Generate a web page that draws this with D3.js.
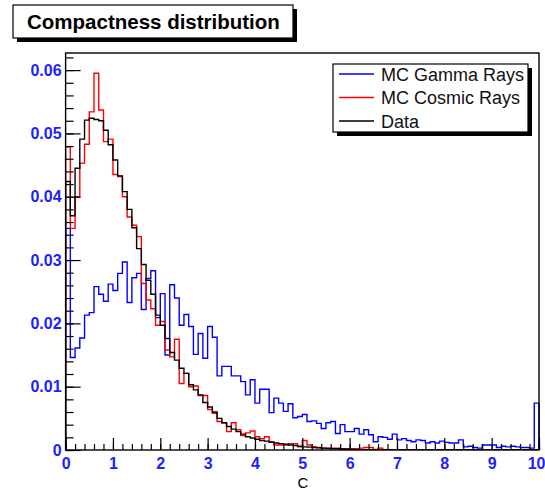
<!DOCTYPE html>
<html>
<head>
<meta charset="utf-8">
<script src="https://cdn.jsdelivr.net/npm/d3@7"></script>
<style>
  body { margin: 0; background: #fff; }
  svg { display: block; font-family: "Liberation Sans", Arial, sans-serif; }
</style>
</head>
<body>
<div id="chart"></div>
<script>
// histogrammes de compacité, 100 bins de 0.1 entre 0 et 10
const binWidth = 0.1;

const gammaRays = [
  0.0350, 0.0146, 0.0161, 0.0177, 0.0213, 0.0217, 0.0258, 0.0246, 0.0235, 0.0262,
  0.0252, 0.0279, 0.0297, 0.0233, 0.0272, 0.0279, 0.0222, 0.0271, 0.0283, 0.0209,
  0.0247, 0.0150, 0.0261, 0.0240, 0.0197, 0.0214, 0.0195, 0.0151, 0.0184, 0.0145,
  0.0195, 0.0178, 0.0117, 0.0132, 0.0132, 0.0117, 0.0117, 0.0108, 0.0087, 0.0111,
  0.0074, 0.0096, 0.0096, 0.0059, 0.0082, 0.0074, 0.0061, 0.0073, 0.0051, 0.0053,
  0.0056, 0.0045, 0.0046, 0.0042, 0.0034, 0.0043, 0.0045, 0.0026, 0.0040, 0.0029,
  0.0029, 0.0034, 0.0025, 0.0032, 0.0024, 0.0013, 0.0021, 0.0020, 0.0017, 0.0025,
  0.0016, 0.0018, 0.0015, 0.0013, 0.0016, 0.0015, 0.0011, 0.0013, 0.0011, 0.0014,
  0.0012, 0.0011, 0.0011, 0.0016, 0.0005, 0.0006, 0.0004, 0.0003, 0.0008, 0.0008,
  0.0008, 0.0004, 0.0006, 0.0005, 0.0006, 0.0005, 0.0004, 0.0004, 0.0003, 0.0074
];

const cosmicRays = [
  0.0479, 0.0350, 0.0400, 0.0453, 0.0483, 0.0534, 0.0595, 0.0537, 0.0487, 0.0491,
  0.0435, 0.0432, 0.0400, 0.0368, 0.0355, 0.0337, 0.0263, 0.0237, 0.0223, 0.0197,
  0.0203, 0.0158, 0.0147, 0.0175, 0.0105, 0.0121, 0.0100, 0.0101, 0.0086, 0.0086,
  0.0064, 0.0058, 0.0045, 0.0043, 0.0029, 0.0043, 0.0032, 0.0023, 0.0027, 0.0030,
  0.0021, 0.0018, 0.0021, 0.0013, 0.0008, 0.0008, 0.0008, 0.0010, 0.0010, 0.0005,
  0.0015, 0.0008, 0.0005, 0.0004, 0.0003, 0.0003, 0.0003, 0.0003, 0.0002, 0.0002,
  0.0002, 0.0002, 0.0003, 0.0004, 0.0004, 0.0001, 0.0003, 0, 0, 0,
  0, 0, 0, 0, 0, 0, 0, 0, 0, 0,
  0, 0, 0, 0, 0, 0, 0, 0, 0, 0,
  0, 0, 0, 0, 0, 0, 0, 0, 0, 0
];

const dataHist = [
  0.0424, 0.0370, 0.0445, 0.0491, 0.0521, 0.0524, 0.0522, 0.0520, 0.0505, 0.0482,
  0.0458, 0.0433, 0.0408, 0.0380, 0.0351, 0.0318, 0.0293, 0.0268, 0.0246, 0.0213,
  0.0197, 0.0176, 0.0154, 0.0142, 0.0129, 0.0121, 0.0103, 0.0095, 0.0087, 0.0075,
  0.0068, 0.0060, 0.0050, 0.0043, 0.0037, 0.0033, 0.0029, 0.0025, 0.0021, 0.0019,
  0.0017, 0.0015, 0.0014, 0.0012, 0.0011, 0.0010, 0.0009, 0.0008, 0.0007, 0.0006,
  0.0005, 0.00045, 0.0004, 0.00035, 0.0003, 0.00025, 0.0002, 0.0002, 0.00015, 0.00012,
  0.0001, 0.00005, 0.00005, 0.00005, 0.00005, 0, 0, 0, 0, 0,
  0, 0, 0, 0, 0, 0, 0, 0, 0, 0,
  0, 0, 0, 0, 0, 0, 0, 0, 0, 0,
  0, 0, 0, 0, 0, 0, 0, 0, 0, 0
];

const seriesNames = ["MC Gamma Rays", "MC Cosmic Rays", "Data"];
const seriesColors = ["#0000ff", "#ff0000", "#000000"];
const xTicks = [0, 1, 2, 3, 4, 5, 6, 7, 8, 9, 10];
const yTicks = [0, 0.01, 0.02, 0.03, 0.04, 0.05, 0.06];

const width = 545, height = 490;
const frameLeft = 65.6, frameRight = 539, frameTop = 53, frameBottom = 450;
const labelBlue = "#1e1eff";

const svg = d3.select("#chart").append("svg")
  .attr("width", width)
  .attr("height", height);

svg.append("rect").attr("width", width).attr("height", height).attr("fill", "#fff");

const x = d3.scaleLinear().domain([0, 10]).range([frameLeft, frameRight]);
const y = d3.scaleLinear().domain([0, 0.0627]).range([frameBottom, frameTop]);

// les histogrammes, dessinés en escalier
svg.append("clipPath").attr("id", "frameClip")
  .append("rect")
  .attr("x", frameLeft).attr("y", frameTop - 2)
  .attr("width", frameRight - frameLeft + 1).attr("height", frameBottom - frameTop + 2);

const stepLine = d3.line()
  .x(d => x(d[0]))
  .y(d => y(d[1]))
  .curve(d3.curveStepAfter);

function histPoints(values) {
  const pts = [[0, 0]];
  values.forEach((v, i) => pts.push([i * binWidth, v]));
  pts.push([values.length * binWidth, 0]);
  return pts;
}

const allSeries = [gammaRays, cosmicRays, dataHist];

svg.append("g").attr("clip-path", "url(#frameClip)")
  .selectAll("path")
  .data(allSeries)
  .enter()
  .append("path")
  .attr("d", d => stepLine(histPoints(d)))
  .attr("fill", "none")
  .attr("stroke", (d, i) => seriesColors[i])
  .attr("stroke-width", 1.4);

// axe Y : graduations vers l'intérieur
const yMinor = d3.range(0, 0.0627, 0.002);
svg.append("g")
  .attr("transform", `translate(${frameLeft},0)`)
  .call(d3.axisLeft(y).tickValues(yMinor).tickSize(-8).tickFormat(""))
  .call(g => g.select(".domain").remove());

svg.append("g")
  .attr("transform", `translate(${frameLeft},0)`)
  .call(d3.axisLeft(y).tickValues(yTicks).tickSize(-15).tickSizeOuter(0).tickPadding(4)
    .tickFormat(d => d === 0 ? "0" : d3.format(".2f")(d)))
  .call(g => g.select(".domain").remove())
  .call(g => g.selectAll("text")
    .attr("fill", labelBlue)
    .style("font-size", "16px")
    .style("font-weight", "bold"));

// axe X
const xMinor = d3.range(0, 10.01, 0.2);
svg.append("g")
  .attr("transform", `translate(0,${frameBottom})`)
  .call(d3.axisBottom(x).tickValues(xMinor).tickSize(-6).tickFormat(""))
  .call(g => g.select(".domain").remove());

svg.append("g")
  .attr("transform", `translate(0,${frameBottom})`)
  .call(d3.axisBottom(x).tickValues(xTicks).tickSize(-12).tickSizeOuter(0).tickPadding(8))
  .call(g => g.select(".domain").remove())
  .call(g => g.selectAll("text")
    .attr("fill", labelBlue)
    .style("font-size", "16px")
    .style("font-weight", "bold"))
  // le "10" déborde à droite : on le garde dans la fenêtre
  .call(g => g.selectAll("text").filter(d => d === 10).attr("text-anchor", "end").attr("x", 6));

svg.selectAll(".tick line").attr("stroke", "#000").attr("stroke-width", 1.2);

// cadre
svg.append("rect")
  .attr("x", frameLeft).attr("y", frameTop)
  .attr("width", frameRight - frameLeft).attr("height", frameBottom - frameTop)
  .attr("fill", "none")
  .attr("stroke", "#000")
  .attr("stroke-width", 1.4);

// titre de l'axe
svg.append("text")
  .attr("x", 303).attr("y", 488)
  .attr("text-anchor", "middle")
  .style("font-size", "15px")
  .text("C");

// titre avec ombre
svg.append("rect").attr("x", 17).attr("y", 9).attr("width", 280).attr("height", 33).attr("fill", "#000");
svg.append("rect").attr("x", 13).attr("y", 5).attr("width", 280).attr("height", 33)
  .attr("fill", "#fff").attr("stroke", "#000").attr("stroke-width", 1.2);
svg.append("text")
  .attr("x", 27).attr("y", 29)
  .style("font-size", "20.5px")
  .style("font-weight", "bold")
  .text("Compactness distribution");

// légende
const legX = 333, legY = 64, legW = 195, legH = 68;
svg.append("rect").attr("x", legX + 4).attr("y", legY + 4).attr("width", legW).attr("height", legH).attr("fill", "#000");
svg.append("rect").attr("x", legX).attr("y", legY).attr("width", legW).attr("height", legH)
  .attr("fill", "#fff").attr("stroke", "#000").attr("stroke-width", 1.2);

const legendItems = seriesNames.map((name, i) => ({ name: name, color: seriesColors[i], row: i }));

const legend = svg.selectAll(".leg")
  .data(legendItems)
  .enter()
  .append("g")
  .attr("class", "leg")
  .attr("transform", d => `translate(${legX},${legY + 10 + d.row * 23.5})`);

legend.append("line")
  .attr("x1", 6).attr("x2", 41)
  .attr("y1", 0).attr("y2", 0)
  .attr("stroke", d => d.color)
  .attr("stroke-width", 1.5);

legend.append("text")
  .attr("x", 48).attr("y", 6.5)
  .style("font-size", "18px")
  .attr("fill", "#111")
  .text(d => d.name);
</script>
</body>
</html>
